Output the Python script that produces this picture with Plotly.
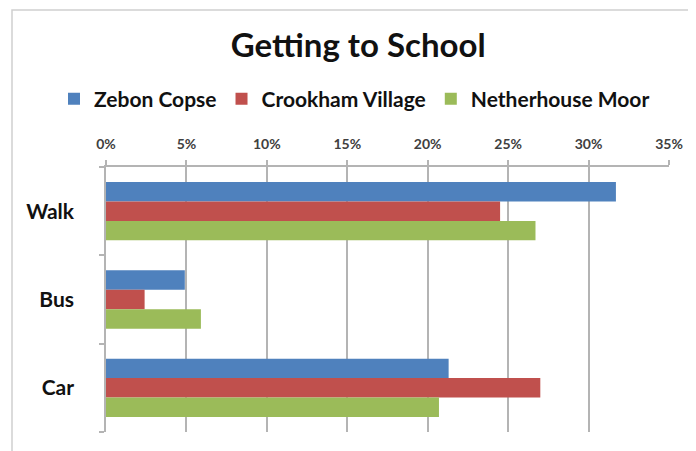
import plotly.graph_objects as go

categories = ["Walk", "Bus", "Car"]
series_names = ["Zebon Copse", "Crookham Village", "Netherhouse Moor"]
zebon_copse = [0.317, 0.049, 0.213]
crookham_village = [0.245, 0.024, 0.270]
netherhouse_moor = [0.267, 0.059, 0.207]
tick_values = [0, 0.05, 0.10, 0.15, 0.20, 0.25, 0.30, 0.35]
tick_labels = ["0%", "5%", "10%", "15%", "20%", "25%", "30%", "35%"]
colors = ["#4F81BD", "#C0504D", "#9BBB59"]

FONT = "Lato"
PW, PH = 563.0, 265.0  # plot area size in px

fig = go.Figure()
for name, vals, col in zip(series_names, [zebon_copse, crookham_village, netherhouse_moor], colors):
    fig.add_trace(go.Bar(y=categories, x=vals, name=f"<b>{name}</b>", orientation="h",
                         marker=dict(color=col, line=dict(width=0))))

fig.update_layout(
    width=688, height=443,
    paper_bgcolor="white", plot_bgcolor="white",
    margin=dict(l=98, r=27, t=159, b=19, autoexpand=False),
    barmode="group", bargap=0.34, bargroupgap=0,
    font=dict(family=FONT, color="#111111"),
    title=dict(text="<b>Getting to School</b>", x=0.509, xanchor="center",
               y=1 - 37 / 443, yanchor="middle", font=dict(size=33, family=FONT, color="#111111")),
    legend=dict(orientation="h", x=(54 - 106) / PW, xanchor="left",
                y=(432 - 99) / PH, yanchor="middle",
                font=dict(size=21, family=FONT, color="#111111"), itemwidth=30,
                traceorder="normal", bgcolor="rgba(0,0,0,0)"),
    xaxis=dict(side="top", range=[0, 0.35], tickvals=tick_values, ticktext=[f"<b>{t}</b>" for t in tick_labels],
               showgrid=True, gridcolor="#B4B4B4", gridwidth=1.5, zeroline=False,
               showline=True, linecolor="#B4B4B4", linewidth=1.5,
               ticks="outside", ticklen=5, tickcolor="#B4B4B4", tickwidth=1.5,
               ticklabelstandoff=6, automargin=False,
               tickfont=dict(size=14, family=FONT, color="#404040")),
    yaxis=dict(autorange="reversed", showline=True, linecolor="#B4B4B4", linewidth=1.5,
               ticks="outside", ticklen=5, tickcolor="#B4B4B4", tickwidth=1.5, tickson="boundaries",
               ticklabelstandoff=26, automargin=False,
               tickvals=categories, ticktext=[f"<b>{c}</b>" for c in categories],
               tickfont=dict(size=21, family=FONT, color="#111111")),
)

fig.add_shape(type="rect", xref="paper", yref="paper",
              x0=(12 - 106) / PW, x1=1.2, y0=-0.3, y1=(432 - 10) / PH,
              line=dict(color="#D0D0D0", width=1.5), fillcolor="rgba(0,0,0,0)", layer="below")

fig.write_html("out.html")
